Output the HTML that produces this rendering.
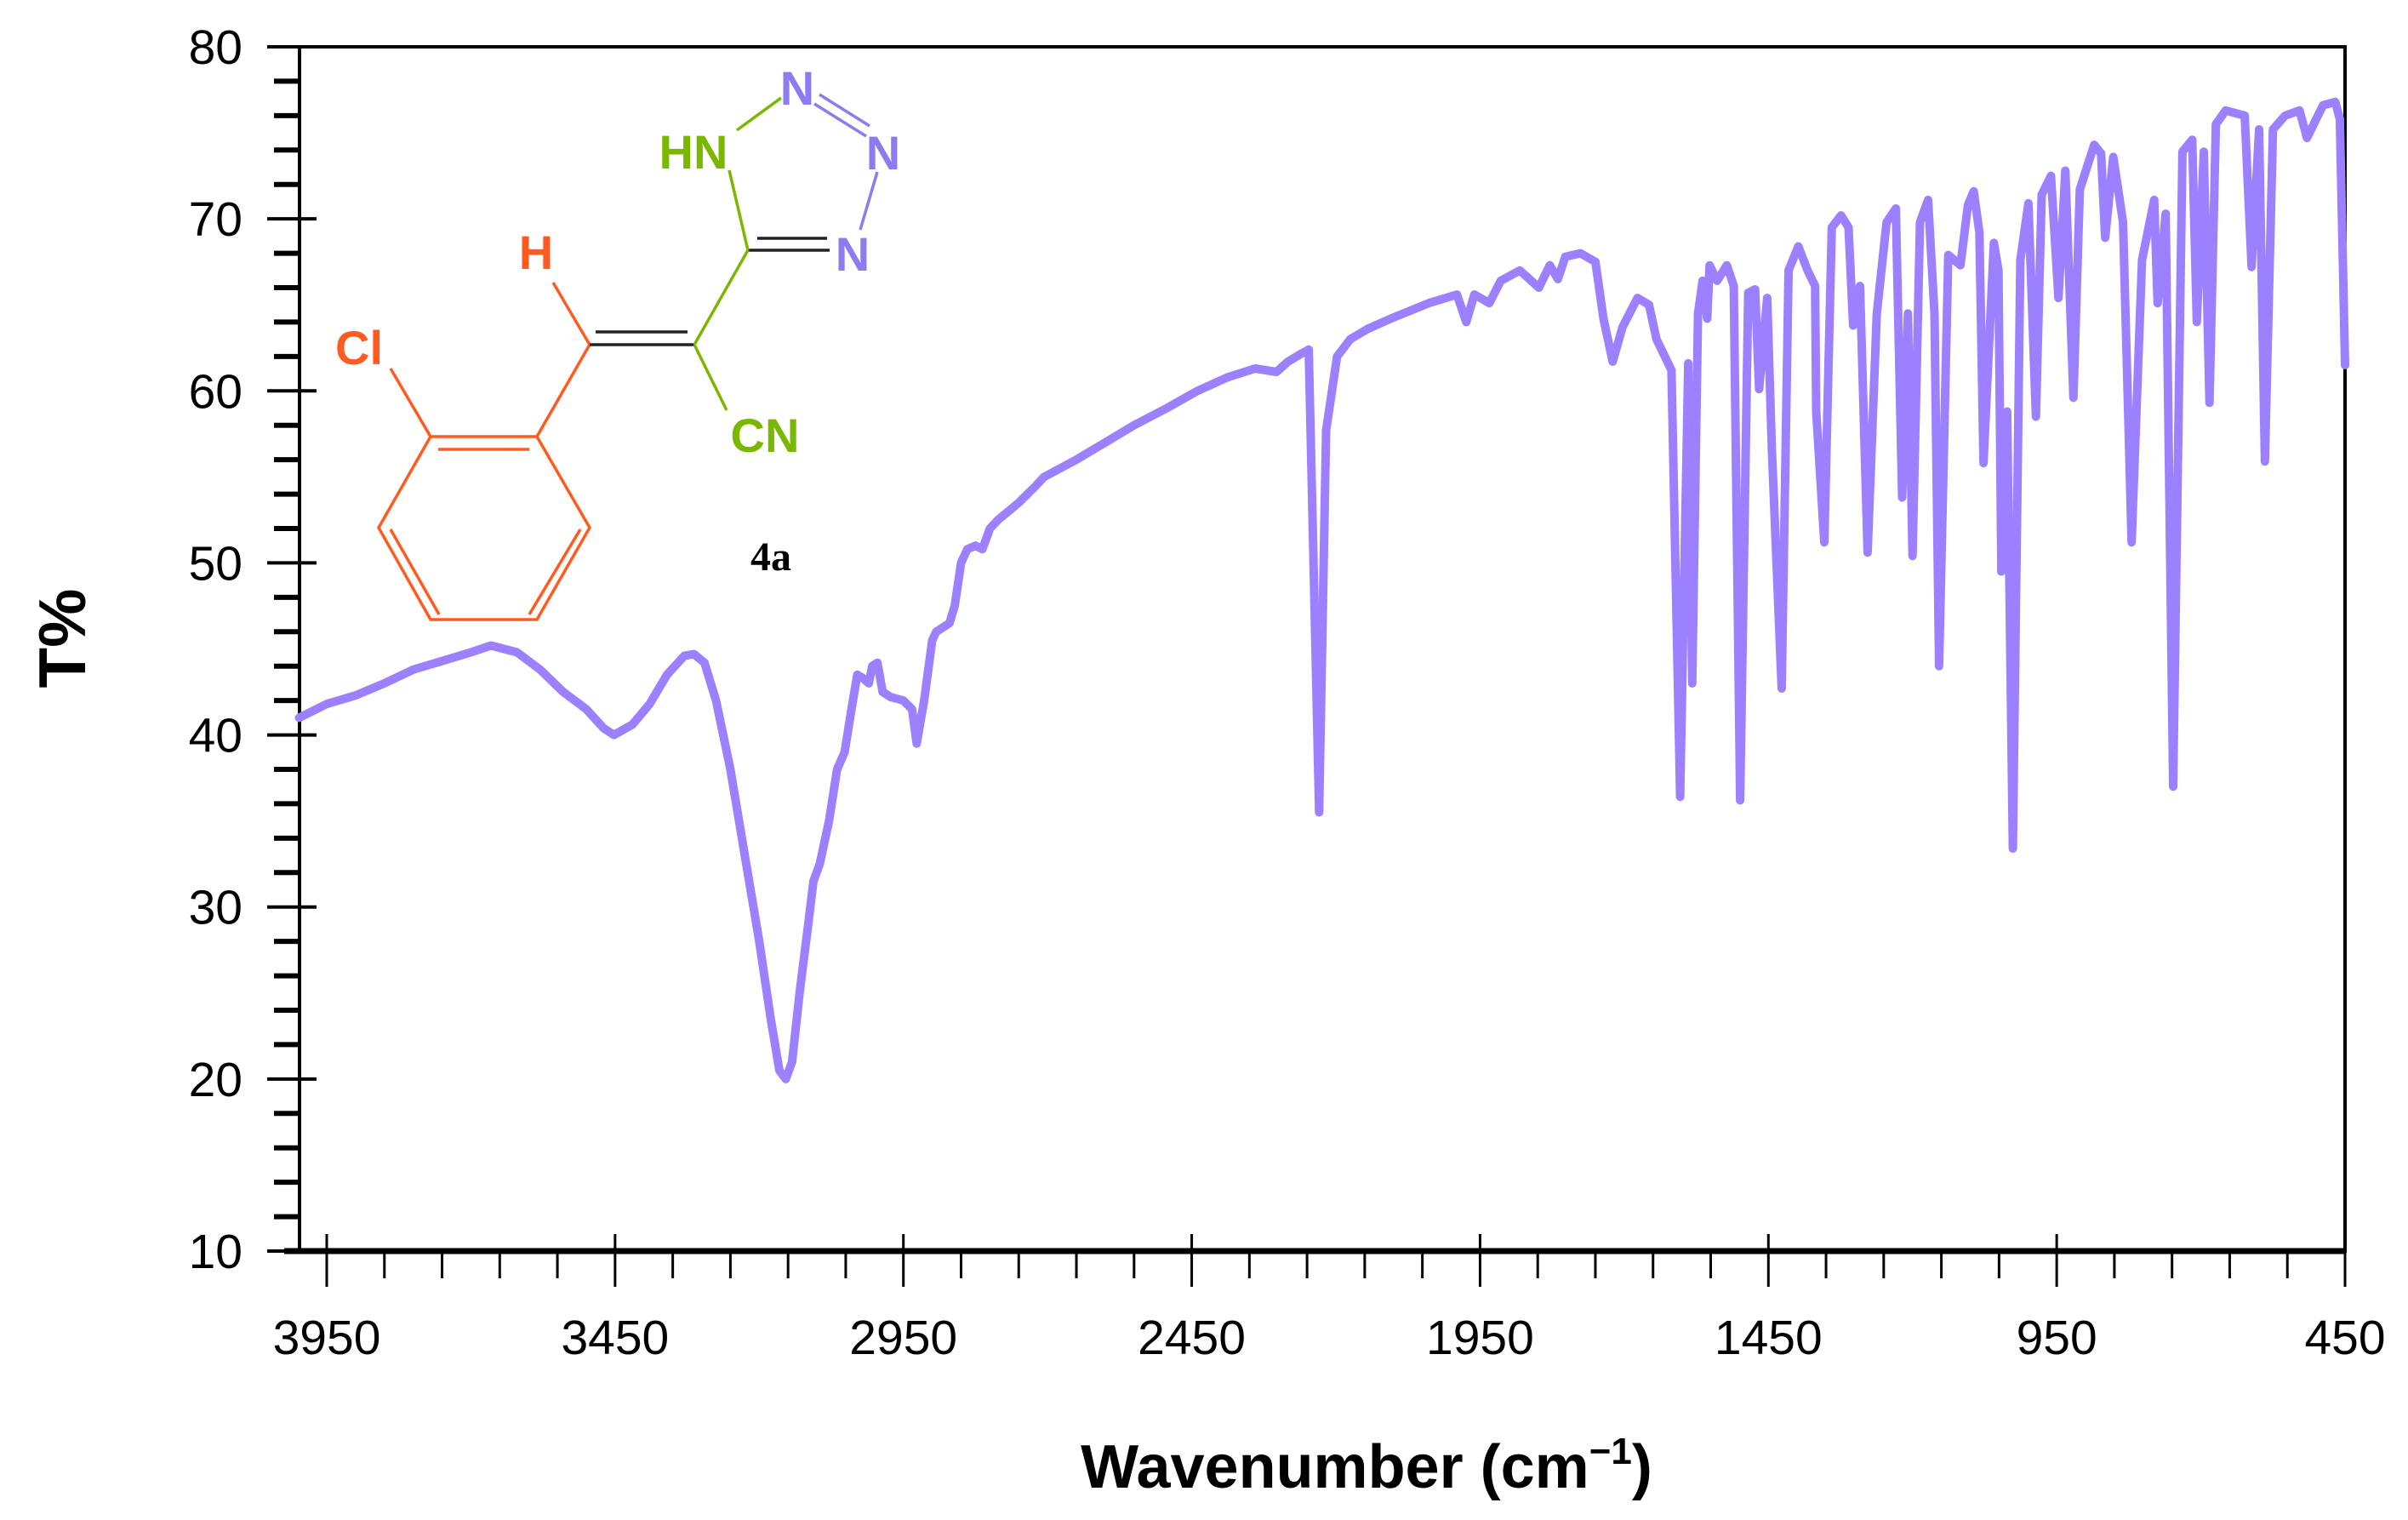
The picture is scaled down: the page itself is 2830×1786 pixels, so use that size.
<!DOCTYPE html>
<html><head><meta charset="utf-8"><style>
html,body{margin:0;padding:0;background:#fff}
svg{display:block}
text{font-family:"Liberation Sans",sans-serif}
</style></head><body>
<svg id="chart" width="2830" height="1786" viewBox="0 0 2830 1786" xmlns="http://www.w3.org/2000/svg">
<g id="axes"></g>
<g id="series"></g>
<g id="molecule" fill="none" stroke-width="3.5">
  <g stroke="#FF5A1F">
    <polyline points="506,513 631,513 693,620 631,728 506,728 445,620 506,513"/>
    <line x1="515" y1="528" x2="622" y2="528"/>
    <line x1="682" y1="622" x2="622" y2="722"/>
    <line x1="459" y1="622" x2="516" y2="722"/>
    <line x1="459" y1="433" x2="506" y2="513"/>
    <line x1="631" y1="513" x2="693" y2="405"/>
    <line x1="650" y1="332" x2="693" y2="405"/>
  </g>
  <g stroke="#222">
    <line x1="693" y1="405" x2="816" y2="405"/>
    <line x1="700" y1="390" x2="808" y2="390"/>
    <line x1="879" y1="294" x2="975" y2="294"/>
    <line x1="890" y1="280" x2="972" y2="280"/>
  </g>
  <g stroke="#7AB800">
    <line x1="816" y1="405" x2="879" y2="294"/>
    <line x1="816" y1="405" x2="854" y2="482"/>
    <line x1="879" y1="294" x2="857" y2="200"/>
    <line x1="866" y1="153" x2="918" y2="115"/>
  </g>
  <g stroke="#8C7CF0">
    <line x1="957" y1="122" x2="1018" y2="160"/>
    <line x1="963" y1="111" x2="1022" y2="148"/>
    <line x1="1031" y1="202" x2="1011" y2="270"/>
  </g>
  <g stroke="none" font-weight="bold" font-size="56" text-anchor="middle">
    <text x="422" y="428" fill="#FF5A1F">Cl</text>
    <text x="630" y="316" fill="#FF5A1F">H</text>
    <text x="815" y="198" fill="#7AB800">HN</text>
    <text x="899" y="531" fill="#7AB800">CN</text>
    <text x="937" y="123" fill="#8C7CF0">N</text>
    <text x="1038" y="199" fill="#8C7CF0">N</text>
    <text x="1002" y="318" fill="#8C7CF0">N</text>
    <text x="906" y="670" fill="#000" font-size="48" style="font-family:'Liberation Serif',serif">4a</text>
  </g>
</g>
</svg>
<script>
const wavenumbers=[3998,3950,3900,3850,3800,3750,3700,3665,3620,3580,3540,3500,3470,3452,3420,3390,3360,3330,3313,3295,3275,3250,3225,3200,3180,3165,3154,3143,3130,3115,3106,3095,3079,3065,3052,3040,3030,3020,3010,3004,2995,2986,2972,2950,2935,2927,2914,2900,2893,2870,2861,2850,2839,2825,2813,2800,2786,2750,2720,2706,2650,2600,2550,2493,2440,2387,2340,2303,2283,2263,2247,2229,2217,2198,2175,2145,2105,2039,1990,1974,1960,1934,1914,1881,1848,1829,1815,1802,1776,1750,1736,1720,1703,1677,1657,1644,1618,1603,1589,1582,1572,1564,1556,1552,1539,1522,1510,1499,1485,1473,1466,1452,1444,1427,1415,1398,1382,1369,1367,1353,1340,1324,1311,1303,1291,1278,1262,1245,1229,1218,1208,1200,1187,1173,1162,1154,1138,1117,1104,1094,1084,1077,1059,1051,1046,1036,1026,1013,999,986,976,960,947,935,921,910,885,873,866,852,835,820,802,781,775,761,748,732,715,707,695,685,674,657,624,612,599,589,575,554,529,516,500,488,467,459,450];
const transmittance=[41,41.8,42.3,43,43.8,44.3,44.8,45.2,44.8,43.8,42.5,41.5,40.4,40,40.6,41.8,43.5,44.6,44.7,44.2,42,38,33,28,23.5,20.5,20,21,25,29,31.5,32.5,35,38,39,41.5,43.5,43.3,43,44,44.2,42.5,42.2,42,41.5,39.5,42,45.5,46,46.5,47.5,50,50.8,51,50.8,52,52.5,53.5,54.5,55,56,57,58,59,60,60.8,61.3,61.1,61.7,62.1,62.4,35.5,57.7,62.0,63.0,63.6,64.2,65.1,65.6,64.0,65.6,65.1,66.4,67.0,66.0,67.3,66.5,67.8,68.0,67.5,64.2,61.7,63.7,65.4,65.0,63.0,61.2,36.4,61.6,43.0,64.5,66.4,64.2,67.3,66.4,67.3,66.1,36.2,65.7,65.9,60.1,65.4,56.6,42.7,67.0,68.4,67.0,66.1,58.8,51.2,69.5,70.2,69.5,63.8,66.1,50.6,64.5,69.8,70.6,53.8,64.5,50.4,69.8,71.1,64.5,44.0,67.9,67.3,70.8,71.6,69.2,55.8,68.6,67.0,49.5,58.8,33.4,67.6,70.9,58.5,71.4,72.5,65.4,72.8,59.6,71.7,74.3,73.8,68.9,73.6,69.8,51.2,67.6,71.1,65.1,70.3,37.0,73.9,74.6,64.0,73.9,59.3,75.5,76.3,76.0,67.2,75.2,55.9,75.2,76.0,76.3,74.7,75.8,76.6,76.8,75.8,61.5];
const yTicks=[10,20,30,40,50,60,70,80];
const xTicks=[3950,3450,2950,2450,1950,1450,950,450];
const NS="http://www.w3.org/2000/svg";
const L=352,R=2756,T=55,B=1470;
function xs(w){return 384+(3950-w)*(2372/3500);}
function ys(v){return B-(v-10)*(B-T)/70;}
function mk(tag,attrs,parent){const e=document.createElementNS(NS,tag);for(const k in attrs)e.setAttribute(k,attrs[k]);parent.appendChild(e);return e;}
const ax=document.getElementById('axes');
let fr=mk('rect',{x:L,y:T,width:R-L,height:B-T,fill:'none',stroke:'#000','stroke-width':4},ax);


let xb=mk('line',{x1:L-18,y1:B,x2:R,y2:B,stroke:'#000','stroke-width':7},ax);


for(let v=10;v<=80;v+=2){
  const major=(v%10===0);
  const t=mk('line',{x1:major?L-38:L-30,y1:ys(v),x2:major?L+20:L,y2:ys(v),stroke:'#000','stroke-width':major?4:6},ax);
  
  
}
yTicks.forEach(v=>{
  const t=mk('text',{x:285,y:ys(v)+20,'text-anchor':'end','font-size':57,fill:'#000'},ax);
  t.textContent=v;
  
  
});
for(let w=3950;w>=450;w-=100){
  const major=((3950-w)%500===0);
  const t=mk('line',{x1:xs(w),y1:major?B-20:B,x2:xs(w),y2:B+(major?42:32),stroke:'#000','stroke-width':3},ax);
  
  
}
xTicks.forEach(w=>{
  const t=mk('text',{x:xs(w),y:1591,'text-anchor':'middle','font-size':57,fill:'#000'},ax);
  t.textContent=w;
  
  
});
let xt=mk('text',{x:1606,y:1748,'text-anchor':'middle','font-size':72,'font-weight':'bold',fill:'#000'},ax);
xt.innerHTML='Wavenumber (cm<tspan dy="-28" font-size="44">\u22121</tspan><tspan dy="28">)</tspan>';


let yt=mk('text',{x:0,y:0,'text-anchor':'middle','font-size':78,'font-weight':'bold',fill:'#000',transform:'translate(100,750) rotate(-90)'},ax);
yt.textContent='T%';


const sg=document.getElementById('series');
const pts=wavenumbers.map((w,i)=>xs(w).toFixed(1)+','+ys(transmittance[i]).toFixed(1)).join(' ');
const pl=mk('polyline',{points:pts,fill:'none',stroke:'#9B80FF','stroke-width':10,'stroke-linejoin':'round','stroke-linecap':'round'},sg);


</script>
</body></html>
